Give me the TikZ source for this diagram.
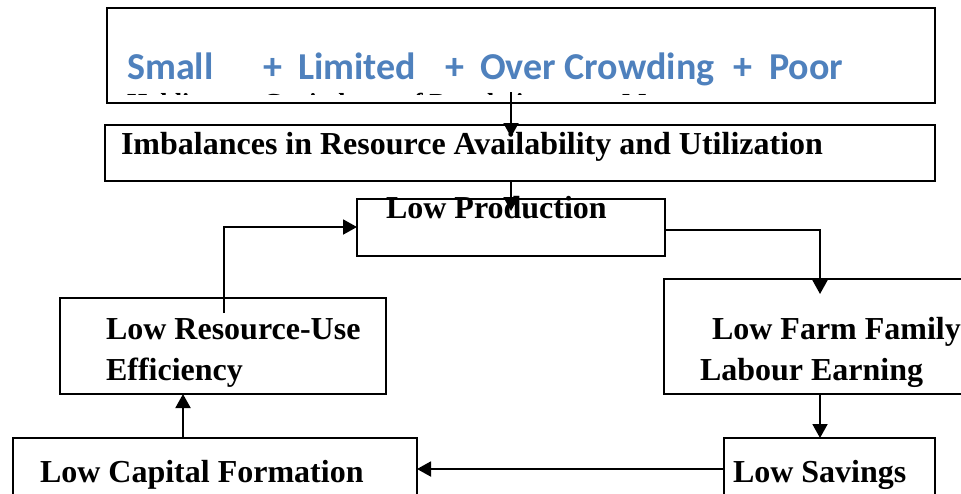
\documentclass[tikz,border=0pt]{standalone}
\usepackage{fontspec}
\setmainfont{Liberation Serif}
\newfontfamily\calib{Carlito}
\usetikzlibrary{arrows.meta}
\definecolor{blueTxt}{RGB}{79,129,189}
\tikzset{
  box/.style={draw=black, line width=1.9pt, fill=none, rectangle, inner sep=0pt, outer sep=0pt, anchor=north west},
  lbl/.style={anchor=base west, inner sep=0pt, outer sep=0pt, font=\bfseries\fontsize{32}{41}\selectfont},
  arr/.style={line width=1.9pt, -{Triangle[length=14pt,width=15pt]}}
}
\begin{document}
\begin{tikzpicture}[x=1pt,y=-1pt]
\useasboundingbox (0,0) rectangle (961,493);
\fill[white] (0,0) rectangle (961,493);
\clip (0,0) rectangle (961,493);

% boxes
\node[box, minimum width=828pt, minimum height=95pt] (top) at (107,8) {};
\node[box, minimum width=830pt, minimum height=56pt] (imb) at (105,125) {};
\node[box, minimum width=308pt, minimum height=57pt] (prod) at (357,199) {};
\node[box, minimum width=316pt, minimum height=115pt] (farm) at (664,279) {};
\node[box, minimum width=326pt, minimum height=96pt] (res) at (60,298) {};
\node[box, minimum width=211pt, minimum height=82pt] (sav) at (724,438) {};
\node[box, minimum width=404pt, minimum height=82pt] (cap) at (13,438) {};

% top box texts
\node[anchor=base west, inner sep=0pt, text=blueTxt, font=\calib\bfseries\fontsize{38}{46}\selectfont] (causes) at (127,79.5)
  {\makebox[136pt][l]{Small}\makebox[35pt][l]{+}\makebox[147pt][l]{Limited}\makebox[35pt][l]{+}\makebox[253pt][l]{Over Crowding}\makebox[36pt][l]{+}Poor};
\begin{scope}
  \clip (107,8) rectangle (935,94.5);
  \node[anchor=base west, inner sep=0pt, font=\bfseries\fontsize{26}{30}\selectfont] (causes2) at (127,111)
    {\makebox[136pt][l]{Holdings}\makebox[138pt][l]{Capital}\makebox[221pt][l]{of Population}Management};
\end{scope}

% labels
\node[lbl] (imbT) at (121,154) {Imbalances in Resource Availability and Utilization};
\node[lbl] (prodT) at (386,218) {Low Production};
\node[lbl] (farmT) at (700,339) {\begin{tabular}[t]{@{}l@{}}\hspace*{12pt}Low Farm Family\\Labour Earning\end{tabular}};
\node[lbl] (resT) at (106,339) {\begin{tabular}[t]{@{}l@{}}Low Resource-Use\\Efficiency\end{tabular}};
\node[lbl] (savT) at (733,482) {Low Savings};
\node[lbl] (capT) at (40,482) {Low Capital Formation};

% connector end points
\coordinate (a1s) at (511,92);
\coordinate (a1e) at (511,137);
\coordinate (a2s) at (511,181);
\coordinate (a2e) at (511,211);
\coordinate (a3e) at (820,294);
\coordinate (a7s) at (224,313);

% connectors
\draw[arr] (a1s) -- (a1e);
\draw[arr] (a2s) -- (a2e);
\draw[arr] (prod.east |- 0,230) -| (a3e);
\draw[arr] (farm.south -| a3e) -- (sav.north -| a3e);
\draw[arr] (sav.west |- 0,469) -- (cap.east |- 0,469);
\draw[arr] (cap.north -| 183,0) -- (res.south -| 183,0);
\draw[arr] (a7s) |- (prod.west |- 0,227);
\end{tikzpicture}
\end{document}
